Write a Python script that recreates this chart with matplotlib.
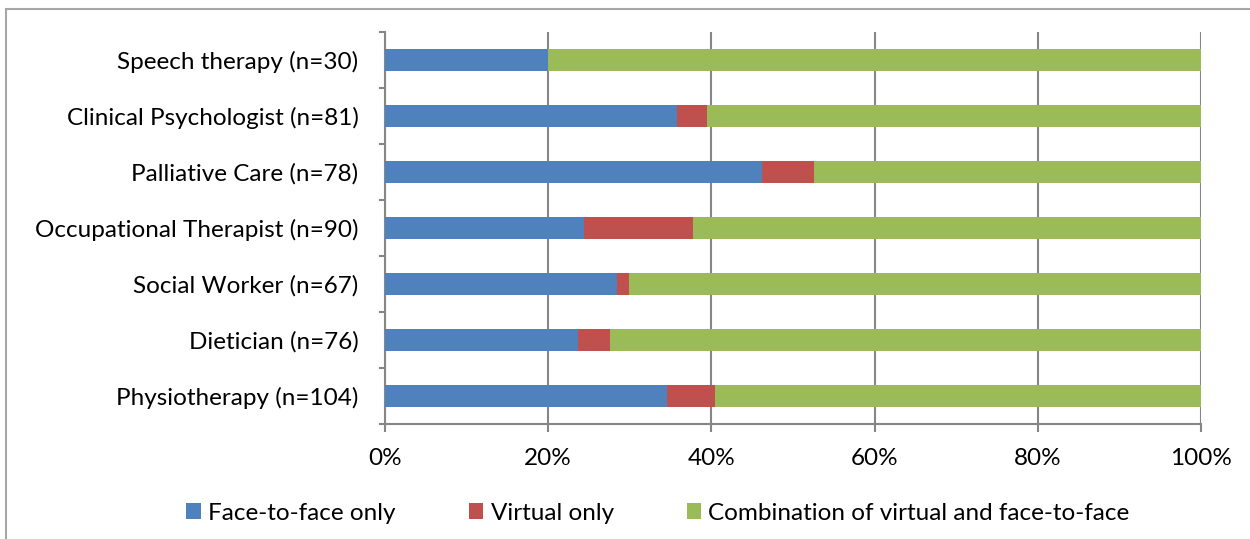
import numpy as np
import matplotlib.pyplot as plt
from matplotlib.patches import Rectangle

plt.rcParams['font.family'] = ['Lato', 'DejaVu Sans']

# categories bottom -> top
cats = ['Physiotherapy (n=104)', 'Dietician (n=76)', 'Social Worker (n=67)',
        'Occupational Therapist (n=90)', 'Palliative Care (n=78)',
        'Clinical Psychologist (n=81)', 'Speech therapy (n=30)']
face = [34.6, 23.7, 28.4, 24.4, 46.2, 35.8, 20.0]
virtual = [5.8, 3.9, 1.5, 13.3, 6.4, 3.7, 0.0]
combo = [100 - f - v for f, v in zip(face, virtual)]

series = ['Face-to-face only', 'Virtual only', 'Combination of virtual and face-to-face']
colors = ['#4F81BD', '#C0504D', '#9BBB59']
grid_c = '#868686'
fs = 17.5

fig = plt.figure(figsize=(12.5, 5.39), dpi=100)
ax = fig.add_axes([385/1250, 1 - 424/539, 816/1250, 392/539])

y = np.arange(len(cats))
left = np.zeros(len(cats))
for vals, c, lab in zip([face, virtual, combo], colors, series):
    ax.barh(y, vals, left=left, height=0.4, color=c, label=lab, zorder=3)
    left = left + np.array(vals)

ax.set_xlim(0, 100)
ax.set_ylim(-0.5, len(cats) - 0.5)
ax.set_xticks(np.arange(0, 101, 20))
ax.set_xticklabels([f'{v}%' for v in range(0, 101, 20)])
ax.set_yticks(y)
ax.set_yticklabels(cats)
ax.set_yticks(np.arange(-0.5, len(cats), 1), minor=True)

ax.grid(axis='x', color=grid_c, linewidth=1.5, zorder=0)
for s in ['top', 'right']:
    ax.spines[s].set_visible(False)
for s in ['left', 'bottom']:
    ax.spines[s].set_color(grid_c)
    ax.spines[s].set_linewidth(1.5)

ax.tick_params(axis='y', which='major', length=0, pad=19, labelsize=fs)
ax.tick_params(axis='y', which='minor', length=4.5, width=1.5, color=grid_c)
ax.tick_params(axis='x', length=5.5, width=1.5, color=grid_c, pad=12, labelsize=fs)

fig.legend(loc='center', bbox_to_anchor=(0.5264, 1 - 513/539), ncol=3, frameon=False,
           fontsize=fs, handlelength=0.6, handleheight=0.6, handletextpad=0.3,
           columnspacing=3.0)

fig.patches.append(Rectangle((6/1250, -0.1), 1.2, 1.1 - 9/539, transform=fig.transFigure,
                             fill=False, edgecolor='#a6a6a6', linewidth=1.5))

fig.savefig('out.png', dpi=100)
